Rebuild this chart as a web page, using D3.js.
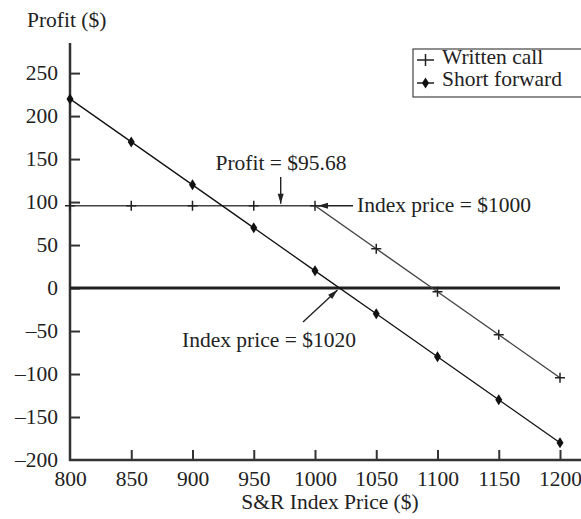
<!DOCTYPE html>
<html>
<head>
<meta charset="utf-8">
<script src="https://cdn.jsdelivr.net/npm/d3@7"></script>
<style>
  body { margin: 0; background: #fff; }
  svg text { font-family: "Liberation Serif", serif; fill: #222; }
</style>
</head>
<body>
<div id="chart"></div>
<script>
// index prices (x) and the two payoff series
var indexPrices = [800, 850, 900, 950, 1000, 1050, 1100, 1150, 1200];
var writtenCall = [95.68, 95.68, 95.68, 95.68, 95.68, 45.68, -4.32, -54.32, -104.32];
var shortForward = [220, 170, 120, 70, 20, -30, -80, -130, -180];
var xTicks = [800, 850, 900, 950, 1000, 1050, 1100, 1150, 1200];
var yTicks = [-200, -150, -100, -50, 0, 50, 100, 150, 200, 250];
var legendLabels = ["Written call", "Short forward"];

var width = 581, height = 519;
var fontSize = 21.5;

var svg = d3.select("#chart").append("svg")
  .attr("width", width)
  .attr("height", height);

var x = d3.scaleLinear().domain([800, 1200]).range([70, 560]);
var y = d3.scaleLinear().domain([-200, 285]).range([460, 43]);

// axes, ticks point inward
var yAxis = d3.axisLeft(y).tickValues(yTicks).tickSizeInner(-10).tickSizeOuter(0).tickPadding(12)
  .tickFormat(d => d < 0 ? "\u2013" + Math.abs(d) : d);
var xAxis = d3.axisBottom(x).tickValues(xTicks).tickSizeInner(-10).tickSizeOuter(0).tickPadding(11)
  .tickFormat(d3.format("d"));

var gy = svg.append("g").attr("transform", "translate(70,0)").call(yAxis);
var gx = svg.append("g").attr("transform", "translate(0,460)").call(xAxis);
[gy, gx].forEach(g => {
  g.select(".domain").remove();
  g.selectAll(".tick line").attr("stroke", "#333").attr("stroke-width", 2);
  g.selectAll(".tick text").style("font-size", fontSize + "px").attr("fill", "#222")
    .style("font-family", "'Liberation Serif', serif");
});
gy.selectAll(".tick").filter(d => d === -200).select("line").remove();
gx.selectAll(".tick").filter(d => d === 800).select("line").remove();

svg.append("line").attr("x1", 70).attr("x2", 70).attr("y1", 43).attr("y2", 461)
  .attr("stroke", "#333").attr("stroke-width", 2.5);
svg.append("line").attr("x1", 69).attr("x2", width).attr("y1", 460).attr("y2", 460)
  .attr("stroke", "#333").attr("stroke-width", 2.5);

// zero line
svg.append("line").attr("x1", x(800)).attr("x2", x(1200)).attr("y1", y(0)).attr("y2", y(0))
  .attr("stroke", "#222").attr("stroke-width", 3);

// series lines
var callPts = indexPrices.map((p, i) => [p, writtenCall[i]]);
var fwdPts = indexPrices.map((p, i) => [p, shortForward[i]]);
var line = d3.line().x(d => x(d[0])).y(d => y(d[1]));

svg.append("path").datum(callPts).attr("d", line)
  .attr("fill", "none").attr("stroke", "#444").attr("stroke-width", 1.4);
svg.append("path").datum(fwdPts).attr("d", line)
  .attr("fill", "none").attr("stroke", "#111").attr("stroke-width", 1.3);

var plusPath = "M-5,0H5M0,-5V5";
var diamondPath = "M0,-5.5L3.5,0L0,5.5L-3.5,0Z";

svg.selectAll("path.plus").data(callPts).enter().append("path")
  .attr("class", "plus")
  .attr("d", plusPath)
  .attr("transform", d => `translate(${x(d[0])},${y(d[1])})`)
  .attr("stroke", "#222").attr("stroke-width", 1.5).attr("fill", "none");

svg.selectAll("path.diamond").data(fwdPts).enter().append("path")
  .attr("class", "diamond")
  .attr("d", diamondPath)
  .attr("transform", d => `translate(${x(d[0])},${y(d[1])})`)
  .attr("fill", "#111");

// axis titles
svg.append("text").attr("x", 27).attr("y", 27).style("font-size", fontSize + "px").text("Profit ($)");
svg.append("text").attr("x", 330).attr("y", 509).attr("text-anchor", "middle")
  .style("font-size", fontSize + "px").text("S&R Index Price ($)");

// arrows
function arrow(x1, y1, x2, y2) {
  svg.append("line").attr("x1", x1).attr("y1", y1).attr("x2", x2).attr("y2", y2)
    .attr("stroke", "#222").attr("stroke-width", 1.4);
  var a = Math.atan2(y2 - y1, x2 - x1) * 180 / Math.PI;
  svg.append("path").attr("d", "M0,0L-10,-3L-10,3Z")
    .attr("transform", `translate(${x2},${y2}) rotate(${a})`)
    .attr("fill", "#222");
}

var yCall = y(writtenCall[0]);
svg.append("text").attr("x", 281).attr("y", 170).attr("text-anchor", "middle")
  .style("font-size", fontSize + "px").text("Profit = $95.68");
arrow(x(972), 177, x(972), yCall - 2);

svg.append("text").attr("x", 357).attr("y", 212)
  .style("font-size", fontSize + "px").text("Index price = $1000");
arrow(353, yCall, x(1000) + 3, yCall);

svg.append("text").attr("x", 182).attr("y", 347)
  .style("font-size", fontSize + "px").text("Index price = $1020");
arrow(303, 322, x(1020) - 2, y(0) + 2);

// legend
var legend = svg.append("g").attr("transform", "translate(413,49)");
legend.append("rect").attr("x", 0).attr("y", 0).attr("width", 200).attr("height", 48)
  .attr("fill", "#fff").attr("stroke", "#444").attr("stroke-width", 1.2);
legend.append("path").attr("d", "M4,11H21M12.5,5V17")
  .attr("stroke", "#222").attr("stroke-width", 1.5);
legend.append("path").attr("d", "M4,34H21").attr("stroke", "#222").attr("stroke-width", 1.5);
legend.append("path").attr("d", diamondPath).attr("transform", "translate(12.5,34)").attr("fill", "#111");
legend.selectAll("text.lab").data(legendLabels).enter().append("text")
  .attr("class", "lab")
  .attr("x", 29).attr("y", (d, i) => 15 + i * 22)
  .style("font-size", fontSize + "px")
  .text(d => d);
</script>
</body>
</html>
